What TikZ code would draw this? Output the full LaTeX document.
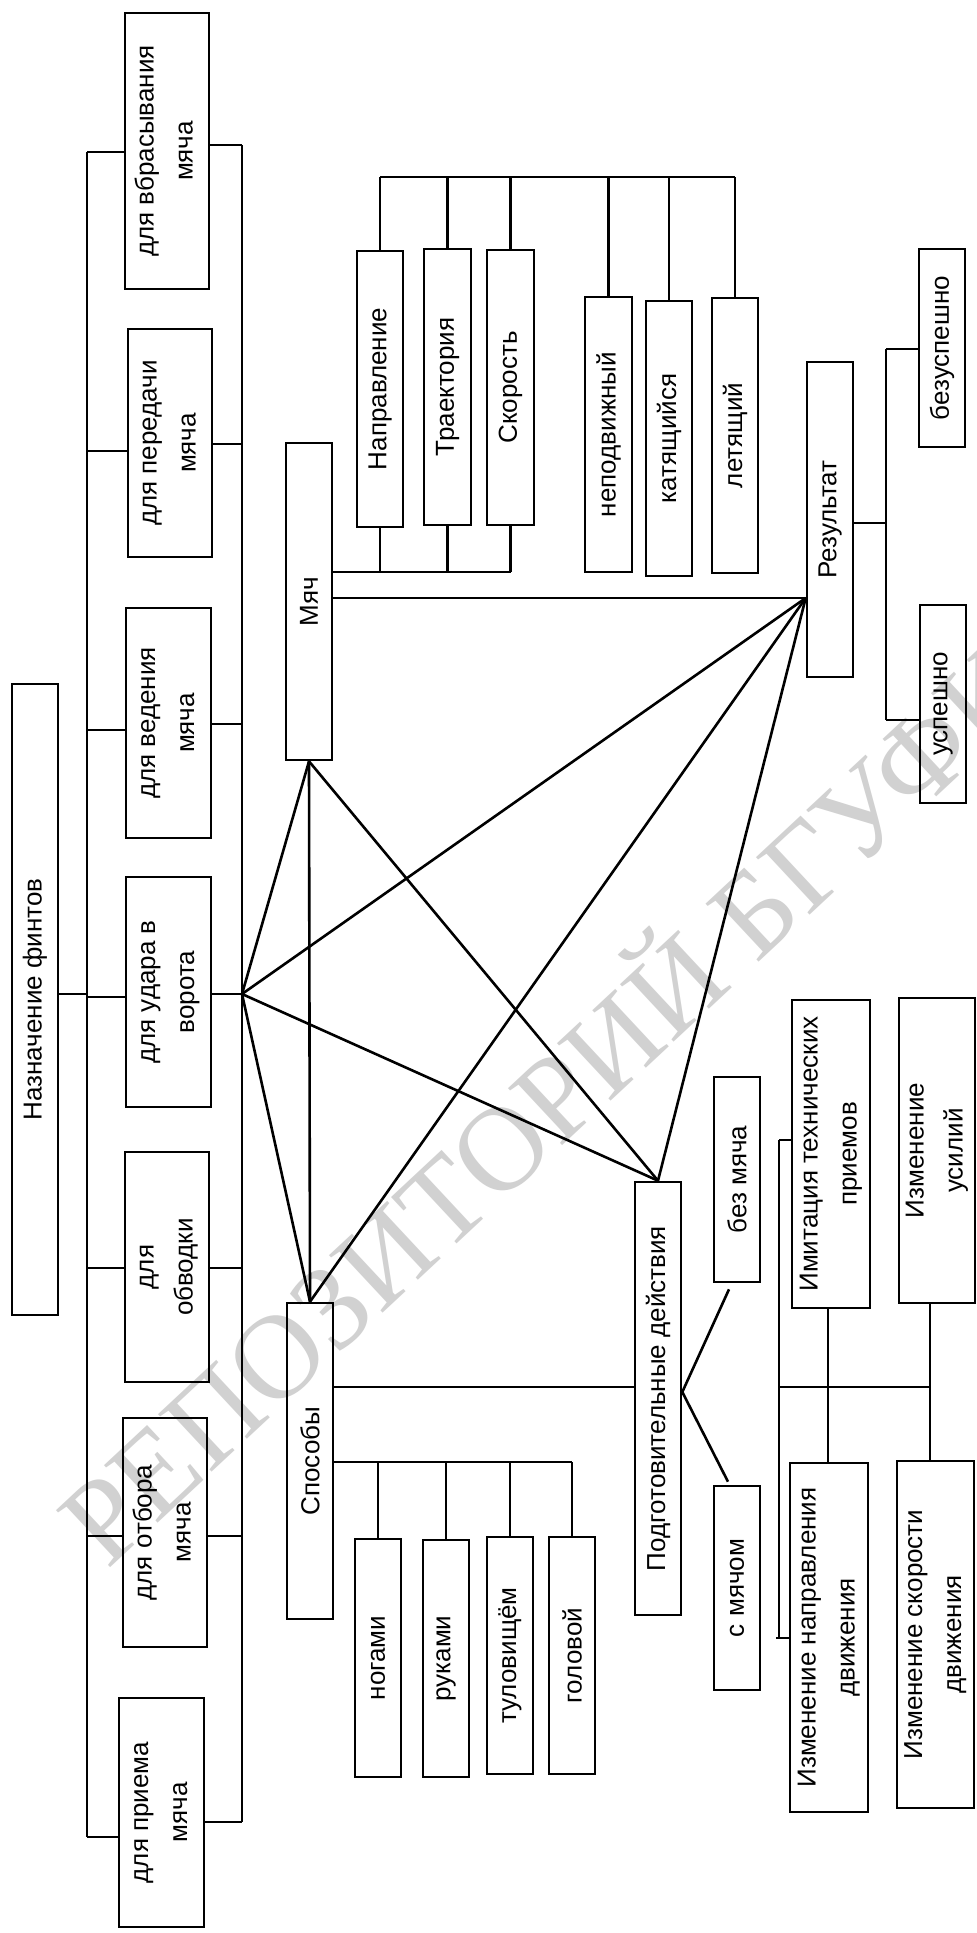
\documentclass[tikz,border=0pt]{standalone}
\usepackage{fontspec}
\setmainfont{Liberation Sans}
\newfontfamily\wmfont{Liberation Serif}
\usetikzlibrary{calc}

% two centred lines of rotated box text
\newcommand{\twoln}[2]{\begin{tabular}{@{}c@{}}#1\\[9pt]#2\end{tabular}}
\newcommand{\upr}[1]{\rotatebox{90}{#1}}

\begin{document}
\begin{tikzpicture}[x=1pt, y=-1pt,
  box/.style={draw, line width=2.6pt, inner sep=0pt, align=center,
    font=\fontsize{26}{30}\selectfont},
  ln/.style={line width=2.6pt},
  wm/.style={text=black!18, font=\wmfont\fontsize{120}{120}\selectfont}]

\clip (0,0) rectangle (977,1933);
\fill[white] (0,0) rectangle (977,1933);

% faint repository watermark
\node[wm, rotate=43] (wmark) at (540,1098) {РЕПОЗИТОРИЙ БГУФК};

% purposes column
\node[box, minimum width=84pt, minimum height=276pt] (vbras) at (167,151) {\upr{\twoln{для вбрасывания}{мяча}}};
\node[box, minimum width=84pt, minimum height=228pt] (pered) at (170,443) {\upr{\twoln{для передачи}{мяча}}};
\node[box, minimum width=85pt, minimum height=230pt] (veden) at (168.5,723) {\upr{\twoln{для ведения}{мяча}}};
\node[box, minimum width=85pt, minimum height=230pt] (udar) at (168.5,992) {\upr{\twoln{для удара в}{ворота}}};
\node[box, minimum width=84pt, minimum height=230pt] (obvod) at (167,1267) {\upr{\twoln{для}{обводки}}};
\node[box, minimum width=84pt, minimum height=229pt] (otbor) at (165,1532.5) {\upr{\twoln{для отбора}{мяча}}};
\node[box, minimum width=85pt, minimum height=229pt] (priem) at (161.5,1812.5) {\upr{\twoln{для приема}{мяча}}};
\node[box, minimum width=46pt, minimum height=631pt] (naz) at (35,999.5) {\upr{Назначение финтов}};

% ball
\node[box, minimum width=46pt, minimum height=317pt] (myach) at (309,601.5) {\upr{Мяч}};
\node[box, minimum width=46pt, minimum height=276pt] (napr) at (380,389) {\upr{Направление}};
\node[box, minimum width=47pt, minimum height=276pt] (traek) at (447.5,387) {\upr{Траектория}};
\node[box, minimum width=47pt, minimum height=275pt] (skor) at (510.5,387.5) {\upr{Скорость}};
\node[box, minimum width=47pt, minimum height=275pt] (nepod) at (608.5,434.5) {\upr{неподвижный}};
\node[box, minimum width=46pt, minimum height=275pt] (katy) at (669,438.5) {\upr{катящийся}};
\node[box, minimum width=46pt, minimum height=275pt] (letya) at (735,435.5) {\upr{летящий}};

% result
\node[box, minimum width=46pt, minimum height=315pt] (rez) at (830,519.5) {\upr{Результат}};
\node[box, minimum width=46pt, minimum height=198pt] (bezusp) at (942,348) {\upr{безуспешно}};
\node[box, minimum width=46pt, minimum height=198pt] (usp) at (943,704) {\upr{успешно}};

% ways
\node[box, minimum width=46pt, minimum height=316pt] (sposob) at (310,1461) {\upr{Способы}};
\node[box, minimum width=46pt, minimum height=238pt] (nogami) at (378,1658) {\upr{ногами}};
\node[box, minimum width=46pt, minimum height=237pt] (rukami) at (446,1658.5) {\upr{руками}};
\node[box, minimum width=46pt, minimum height=237pt] (tulov) at (510,1655.5) {\upr{туловищём}};
\node[box, minimum width=46pt, minimum height=237pt] (golov) at (572,1655.5) {\upr{головой}};

% preparatory actions
\node[box, minimum width=46pt, minimum height=433pt] (podg) at (658,1398.5) {\upr{Подготовительные действия}};
\node[box, minimum width=46pt, minimum height=205pt] (bezm) at (737,1179.5) {\upr{без мяча}};
\node[box, minimum width=46pt, minimum height=204pt] (smyach) at (737,1588) {\upr{с мячом}};
\node[box, minimum width=78pt, minimum height=308pt] (imit) at (831,1154) {\upr{\twoln{Имитация технических}{приемов}}};
\node[box, minimum width=76pt, minimum height=305pt] (usil) at (937,1150.5) {\upr{\twoln{Изменение}{усилий}}};
\node[box, minimum width=78pt, minimum height=349pt] (izmnapr) at (829,1637.5) {\upr{\twoln{Изменение направления}{движения}}};
\node[box, minimum width=77pt, minimum height=347pt] (izmskor) at (935.5,1634.5) {\upr{\twoln{Изменение скорости}{движения}}};

% ---- connectors ----
% left bus of purposes
\coordinate (lbtop) at (87,152);
\coordinate (lbbot) at (87,1837);
\draw[ln] (lbtop) -- (lbbot);
\draw[ln] (lbtop) -- (lbtop -| vbras.west);
\draw[ln] (87,451) -- (pered.west |- 0,451);
\draw[ln] (87,730) -- (veden.west |- 0,730);
\draw[ln] (87,997) -- (udar.west |- 0,997);
\draw[ln] (87,1268) -- (obvod.west |- 0,1268);
\draw[ln] (87,1536) -- (otbor.west |- 0,1536);
\draw[ln] (lbbot) -- (lbbot -| priem.west);
\draw[ln] (naz.east |- 0,994) -- (87,994);

% right bus of purposes
\coordinate (rbtop) at (242,145);
\coordinate (rbbot) at (242,1822);
\coordinate (hub) at (242,994);
\draw[ln] (rbtop) -- (rbbot);
\draw[ln] (vbras.east |- rbtop) -- (rbtop);
\draw[ln] (pered.east |- 0,444) -- (242,444);
\draw[ln] (veden.east |- 0,724) -- (242,724);
\draw[ln] (udar.east |- hub) -- (hub);
\draw[ln] (obvod.east |- 0,1268) -- (242,1268);
\draw[ln] (otbor.east |- 0,1536) -- (242,1536);
\draw[ln] (priem.east |- rbbot) -- (rbbot);

% links between the main blocks
\coordinate (rezp) at (rez.west |- 0,598);
\draw[ln] (hub) -- (myach.south);
\draw[ln] (hub) -- (rezp);
\draw[ln] (hub) -- (sposob.north);
\draw[ln] (hub) -- (podg.north);
\draw[ln] (myach.south) -- (sposob.north);
\draw[ln] (myach.south) -- (podg.north);
\draw[ln] (myach.east |- rezp) -- (rezp);
\draw[ln] (rezp) -- (sposob.north);
\draw[ln] (rezp) -- (podg.north);

% ball properties
\draw[ln] (myach.east |- 0,572) -- (skor.south |- 0,572);
\draw[ln] (napr.south) -- (napr.south |- 0,572);
\draw[ln] (traek.south) -- (traek.south |- 0,572);
\draw[ln] (skor.south) -- (skor.south |- 0,572);
\draw[ln] (napr.north |- 0,177) -- (letya.north |- 0,177);
\foreach \n in {napr,traek,skor,nepod,katy,letya}
  \draw[ln] (\n.north) -- (\n.north |- 0,177);

% result branches
\draw[ln] (rez.east |- 0,523) -- (886,523);
\draw[ln] (886,349) -- (886,720);
\draw[ln] (886,349) -- (bezusp.west |- 0,349);
\draw[ln] (886,720) -- (usp.west |- 0,720);

% ways
\draw[ln] (sposob.east |- 0,1387) -- (podg.west |- 0,1387);
\draw[ln] (sposob.east |- 0,1462) -- (golov.north |- 0,1462);
\foreach \n in {nogami,rukami,tulov,golov}
  \draw[ln] (\n.north) -- (\n.north |- 0,1462);

% preparatory actions
\coordinate (pe) at (podg.east |- 0,1392);
\draw[ln] (pe) -- ([xshift=-8pt,yshift=-6pt]bezm.south);
\draw[ln] (pe) -- ([xshift=-9pt,yshift=3pt]smyach.north);
\draw[ln] (779,1140) -- (779,1638);
\draw[ln] (779,1140) -- (imit.west |- 0,1140);
\draw[ln] (776,1638) -- (izmnapr.west |- 0,1638);
\draw[ln] (779,1387) -- (930,1387);
\draw[ln] (imit.south -| 828,0) -- (izmnapr.north -| 828,0);
\draw[ln] (usil.south -| 930,0) -- (izmskor.north -| 930,0);

\end{tikzpicture}
\end{document}
